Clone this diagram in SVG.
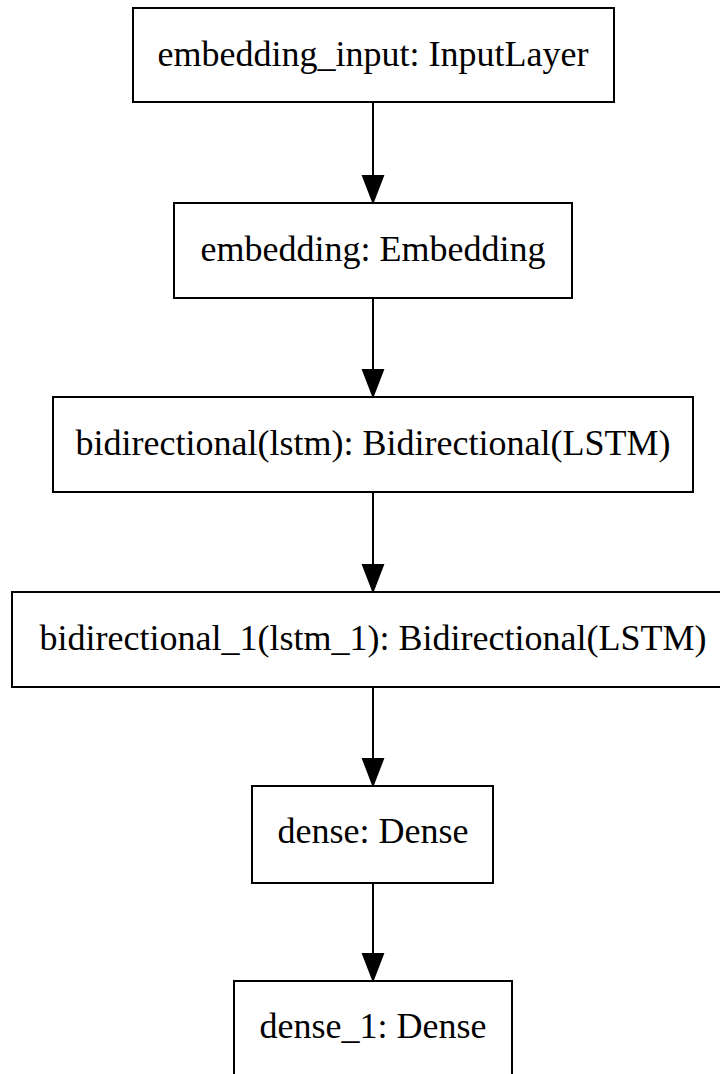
<svg xmlns="http://www.w3.org/2000/svg" width="720" height="1074" viewBox="0 0 720 1074">
<style>
.box{fill:#fff;stroke:#000;stroke-width:2}
.lbl{font-family:"Liberation Serif","Times New Roman",serif;font-size:36px;fill:#000;text-anchor:middle}
.edge{stroke:#000;stroke-width:2;fill:none}
.head{fill:#000;stroke:#000;stroke-width:2}
</style>
<rect width="720" height="1074" fill="#fff"/>
<g id="connectors">
<line class="edge" x1="373" y1="102" x2="373" y2="178"/>
<polygon class="head" points="363,176 383,176 373,202"/>
<line class="edge" x1="373" y1="298" x2="373" y2="372"/>
<polygon class="head" points="363,370 383,370 373,396"/>
<line class="edge" x1="373" y1="492" x2="373" y2="567"/>
<polygon class="head" points="363,565 383,565 373,591"/>
<line class="edge" x1="373" y1="687" x2="373" y2="761"/>
<polygon class="head" points="363,759 383,759 373,785"/>
<line class="edge" x1="373" y1="883" x2="373" y2="956"/>
<polygon class="head" points="363,954 383,954 373,980"/>
</g>
<g id="embedding_input">
<rect class="box" x="133" y="8" width="481" height="94"/>
<text class="lbl" x="373" y="66">embedding_input: InputLayer</text>
</g>
<g id="embedding">
<rect class="box" x="174" y="203" width="398" height="95"/>
<text class="lbl" x="373" y="261">embedding: Embedding</text>
</g>
<g id="bidirectional">
<rect class="box" x="53" y="397" width="640" height="95"/>
<text class="lbl" x="373" y="455">bidirectional(lstm): Bidirectional(LSTM)</text>
</g>
<g id="bidirectional_1">
<rect class="box" x="12" y="592" width="722" height="95"/>
<text class="lbl" x="373" y="650">bidirectional_1(lstm_1): Bidirectional(LSTM)</text>
</g>
<g id="dense">
<rect class="box" x="252" y="786" width="241" height="97"/>
<text class="lbl" x="373" y="843">dense: Dense</text>
</g>
<g id="dense_1">
<rect class="box" x="234" y="981" width="278" height="96"/>
<text class="lbl" x="373" y="1038">dense_1: Dense</text>
</g>
</svg>
